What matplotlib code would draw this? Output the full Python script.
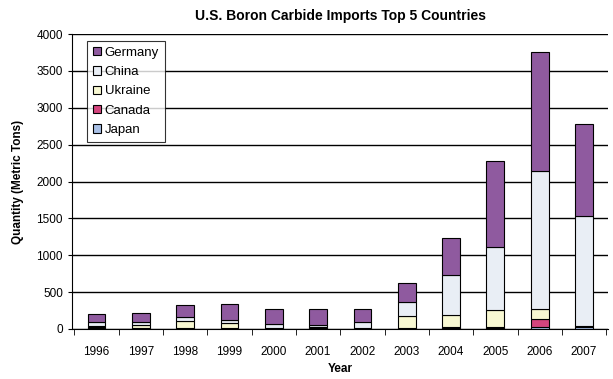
import numpy as np
import matplotlib.pyplot as plt

plt.rcParams['font.family'] = ['Liberation Sans', 'DejaVu Sans']

# data (metric tons)
years = ['1996', '1997', '1998', '1999', '2000', '2001', '2002',
         '2003', '2004', '2005', '2006', '2007']
japan = [10, 8, 9, 7, 3, 4, 2, 5, 8, 10, 22, 30]
canada = [10, 10, 10, 8, 4, 5, 3, 5, 12, 12, 114, 5]
ukraine = [25, 35, 90, 60, 10, 15, 5, 166, 175, 240, 140, 5]
china = [45, 40, 60, 50, 50, 30, 85, 191, 534, 852, 1865, 1487]
germany = [110, 125, 153, 210, 200, 211, 178, 253, 500, 1163, 1613, 1254]

series = [('Japan', japan, '#a9c0e6'),
          ('Canada', canada, '#d4457e'),
          ('Ukraine', ukraine, '#f8f8d2'),
          ('China', china, '#e9eef5'),
          ('Germany', germany, '#8f5a9f')]

fig = plt.figure(figsize=(6.13, 3.79), dpi=100)
ax = fig.add_axes([0.1175, 0.132, 0.875, 0.778])

x = np.arange(len(years))
bottom = np.zeros(len(years))
handles = {}
for name, vals, col in series:
    b = ax.bar(x, vals, 0.4, bottom=bottom, color=col, edgecolor='black',
               linewidth=0.8, zorder=3, label=name)
    handles[name] = b
    bottom += np.array(vals)

ax.set_ylim(0, 4000)
ax.set_xlim(-0.55, len(years) - 0.45)
ax.set_yticks(np.arange(0, 4001, 500))
ax.yaxis.grid(True, color='black', linewidth=1.0, zorder=0)
ax.set_axisbelow(True)

ax.set_xticks(x)
ax.set_xticklabels(years)
ax.set_xticks(np.arange(-0.5, len(years)), minor=True)
ax.tick_params(axis='x', which='major', length=0, pad=12, labelsize=8.5)
ax.tick_params(axis='x', which='minor', length=4, direction='out')
ax.tick_params(axis='y', length=3, labelsize=8.5)

for s in ['top', 'right']:
    ax.spines[s].set_visible(False)

ax.set_title('U.S. Boron Carbide Imports Top 5 Countries',
             fontsize=10, fontweight='bold', pad=10)
ax.set_xlabel('Year', fontsize=8.5, fontweight='bold', labelpad=4)
ax.set_ylabel('Quantity (Metric Tons)', fontsize=8.5, fontweight='bold',
              labelpad=9)

order = ['Germany', 'China', 'Ukraine', 'Canada', 'Japan']
leg = ax.legend([handles[n] for n in order], order, loc='upper left',
                bbox_to_anchor=(0.02, 0.99), fontsize=9.5, frameon=True,
                fancybox=False, edgecolor='black', handlelength=0.6,
                handleheight=0.6, handletextpad=0.3, labelspacing=0.55,
                borderpad=0.45, borderaxespad=0.3)
leg.get_frame().set_linewidth(0.8)
leg.set_zorder(5)

plt.savefig('out.png', dpi=100)
